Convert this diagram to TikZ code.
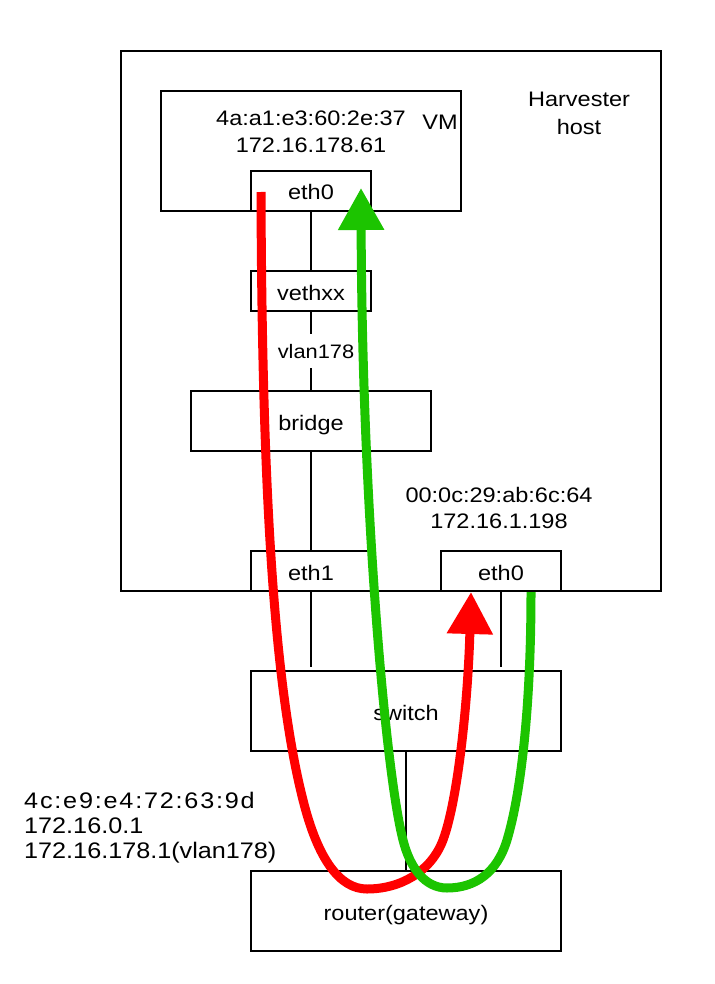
\documentclass[tikz,border=0pt]{standalone}
\usepackage{fontspec}
\setmainfont{Liberation Sans}[FakeStretch=1.12]
\usetikzlibrary{arrows.meta}
\definecolor{flowred}{RGB}{255,0,0}
\definecolor{flowgreen}{RGB}{28,196,0}
\newcommand{\mainsz}{\fontsize{21pt}{25pt}\selectfont}
\newcommand{\smallsz}{\fontsize{19.5pt}{23pt}\selectfont}
\newcommand{\leftsz}{\fontsize{22.5pt}{27pt}\selectfont}
\begin{document}
\begin{tikzpicture}[x=1pt,y=-1pt,
  boxnode/.style={draw=black,line width=1.6pt,inner sep=0pt,text height=18pt,text depth=0pt,font=\mainsz},
  txt/.style={anchor=base,inner sep=0pt,font=\mainsz},
  lefttxt/.style={anchor=base west,inner sep=0pt,font=\leftsz},
  conn/.style={draw=black,line width=1.6pt},
  vlanlbl/.style={fill=white,font=\smallsz,text height=14pt,text depth=0pt,inner ysep=10pt,inner xsep=2pt,xshift=5pt},
  flow/.style={line width=9pt,-{Triangle[length=42pt,width=44pt]}}
]
\useasboundingbox (0,0) rectangle (714,984);
\fill[white] (0,0) rectangle (714,984);

% boxes
\node[boxnode,minimum width=540pt,minimum height=540pt] (host) at (391,321) {};
\node[boxnode,minimum width=300pt,minimum height=120pt] (vm) at (311,151) {};
\node[boxnode,minimum width=120pt,minimum height=40pt] (eth0vm) at (311,191) {eth0};
\node[boxnode,minimum width=120pt,minimum height=40pt] (veth) at (311,291) {vethxx};
\node[boxnode,minimum width=240pt,minimum height=60pt] (bridge) at (311,421) {bridge};
\node[boxnode,minimum width=120pt,minimum height=40pt] (eth1) at (311,571) {eth1};
\node[boxnode,minimum width=120pt,minimum height=40pt] (eth0h) at (501,571) {eth0};
\node[boxnode,minimum width=310pt,minimum height=80pt] (switch) at (406,711) {switch};
\node[boxnode,minimum width=310pt,minimum height=80pt] (router) at (406,911) {router(gateway)};

% texts
\node[txt] (vmmac) at (311,126) {4a:a1:e3:60:2e:37};
\node[txt] (vmip) at (311,153) {172.16.178.61};
\node[txt] (vmlbl) at (440,130) {VM};
\node[txt] (harv1) at (579,107) {Harvester};
\node[txt] (harv2) at (579,135) {host};
\node[txt] (hmac) at (499,502) {00:0c:29:ab:6c:64};
\node[txt] (hip) at (499,528) {172.16.1.198};
\node[lefttxt] (rmac) at (24,808) {\addfontfeature{LetterSpace=8}4c:e9:e4:72:63:9d};
\node[lefttxt] (rip1) at (24,833) {172.16.0.1};
\node[lefttxt] (rip2) at (24,858) {172.16.178.1(vlan178)};

% connectors
\coordinate (sw1) at (311,667);
\coordinate (sw2) at (501,667);
\draw[conn] (eth0vm) -- (veth);
\draw[conn] (veth) -- node[vlanlbl] {vlan178} (bridge);
\draw[conn] (bridge) -- (eth1);
\draw[conn] (eth1) -- (sw1);
\draw[conn] (eth0h) -- (sw2);
\draw[conn] (switch) -- (router);

% flows
\coordinate (rs) at (261,192);
\coordinate (re) at (471,592);
\coordinate (gs) at (531,592);
\coordinate (ge) at (361,188);
\draw[flow,draw=flowred] (rs) .. controls (262,500) and (275,690) .. (303,800)
  .. controls (318,860) and (340,889) .. (367,889)
  .. controls (400,889) and (431,872) .. (443,840)
  .. controls (458,800) and (468,700) .. (re);
\draw[flow,draw=flowgreen] (gs) .. controls (531,700) and (522,790) .. (507,840)
  .. controls (497,873) and (475,888) .. (447,888)
  .. controls (425,888) and (410,868) .. (403,840)
  .. controls (385,770) and (362,500) .. (ge);
\end{tikzpicture}
\end{document}
